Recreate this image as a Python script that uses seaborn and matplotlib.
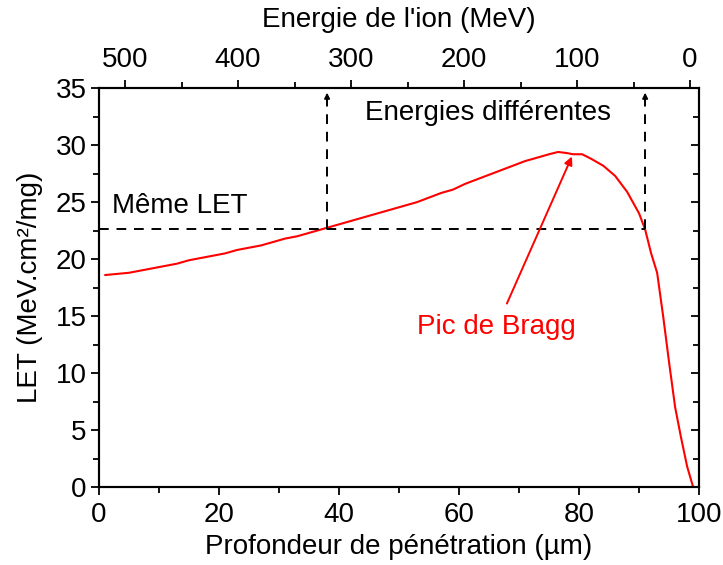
import pandas as pd
import matplotlib
matplotlib.use("Agg")
import matplotlib.pyplot as plt
from matplotlib.ticker import MultipleLocator
import seaborn as sns

# penetration depth (um) and LET (MeV.cm2/mg)
depth = [1, 3, 5, 7, 9, 11, 13, 15, 17, 19, 21, 23, 25, 27, 29, 31, 33, 35,
         37, 39, 41, 43, 45, 47, 49, 51, 53, 55, 57, 59, 61, 63, 65, 67, 69,
         71, 73, 75, 76.5, 78, 79, 80.5, 82, 84, 86, 88, 90, 91, 92, 93, 94,
         95, 96, 97, 98, 99, 100]
let = [18.6, 18.7, 18.8, 19.0, 19.2, 19.4, 19.6, 19.9, 20.1, 20.3, 20.5, 20.8,
       21.0, 21.2, 21.5, 21.8, 22.0, 22.3, 22.6, 22.9, 23.2, 23.5, 23.8, 24.1,
       24.4, 24.7, 25.0, 25.4, 25.8, 26.1, 26.6, 27.0, 27.4, 27.8, 28.2, 28.6,
       28.9, 29.2, 29.4, 29.3, 29.2, 29.2, 28.8, 28.2, 27.3, 25.9, 24.0, 22.6,
       20.5, 18.8, 15.0, 10.9, 7.0, 4.3, 1.8, 0.0, 0.0]

same_let = 22.6
depth_marks = [38, 91]
energy_lim = (523, -8)

df = pd.DataFrame({"depth": depth, "let": let})

sns.set_style("ticks")
plt.rcParams["font.family"] = ["Liberation Sans", "DejaVu Sans"]
plt.rcParams["text.color"] = "black"
plt.rcParams["axes.labelcolor"] = "black"
plt.rcParams["xtick.color"] = "black"
plt.rcParams["ytick.color"] = "black"
plt.rcParams["axes.edgecolor"] = "black"
fs = 20

fig = plt.figure(figsize=(7.23, 5.65), dpi=100)
ax = fig.add_axes([0.137, 0.138, 0.83, 0.706])

sns.lineplot(data=df, x="depth", y="let", color="red", lw=1.5, ax=ax)

ax.set_xlim(0, 100)
ax.set_ylim(0, 35)
ax.xaxis.set_major_locator(MultipleLocator(20))
ax.xaxis.set_minor_locator(MultipleLocator(10))
ax.yaxis.set_major_locator(MultipleLocator(5))
ax.yaxis.set_minor_locator(MultipleLocator(2.5))
ax.tick_params(which="both", direction="out", width=1.3, labelsize=fs, pad=3)
ax.tick_params(axis="x", pad=5)
ax.tick_params(which="major", length=6)
ax.tick_params(which="minor", length=4)
ax.tick_params(axis="y", which="both", right=True, labelright=False)
for s in ax.spines.values():
    s.set_linewidth(1.5)
ax.set_xlabel("Profondeur de pénétration (µm)", fontsize=fs, labelpad=4)
ax.set_ylabel("LET (MeV.cm²/mg)", fontsize=fs, labelpad=9)

# dashed guides
ax.plot([0, depth_marks[1]], [same_let, same_let], color="black", ls=(0, (5, 4)), lw=1.4)
for d in depth_marks:
    ax.plot([d, d], [same_let, 34.6], color="black", ls=(0, (5, 4)), lw=1.4)
    ax.annotate("", xy=(d, 34.6), xytext=(d, 33.8),
                arrowprops=dict(arrowstyle="-|>", color="black", lw=1.2,
                                mutation_scale=8, shrinkA=0, shrinkB=0))

ax.text(2.2, 24.7, "Même LET", fontsize=fs, ha="left", va="center")
ax.text(64.8, 32.8, "Energies différentes", fontsize=fs, ha="center", va="center")
ax.annotate("Pic de Bragg", xy=(78.8, 29.0), xytext=(66.2, 14.0),
            color="red", fontsize=fs, ha="center", va="center",
            arrowprops=dict(arrowstyle="-|>", color="red", lw=1.4,
                            mutation_scale=12, shrinkA=6, shrinkB=0))

# top axis: ion energy
top = ax.twiny()
top.set_xlim(*energy_lim)
top.xaxis.set_major_locator(MultipleLocator(100))
top.xaxis.set_minor_locator(MultipleLocator(50))
top.tick_params(which="both", direction="out", width=1.3, labelsize=fs, pad=5)
top.tick_params(which="major", length=6)
top.tick_params(which="minor", length=4)
for s in top.spines.values():
    s.set_linewidth(1.5)
top.set_xlabel("Energie de l'ion (MeV)", fontsize=fs, labelpad=14)

# right axis ticks inside
for t in ax.yaxis.get_ticklines(minor=False)[1::2] + ax.yaxis.get_ticklines(minor=True)[1::2]:
    t.set_marker(matplotlib.lines.TICKLEFT)

fig.savefig("out.png", dpi=100)
